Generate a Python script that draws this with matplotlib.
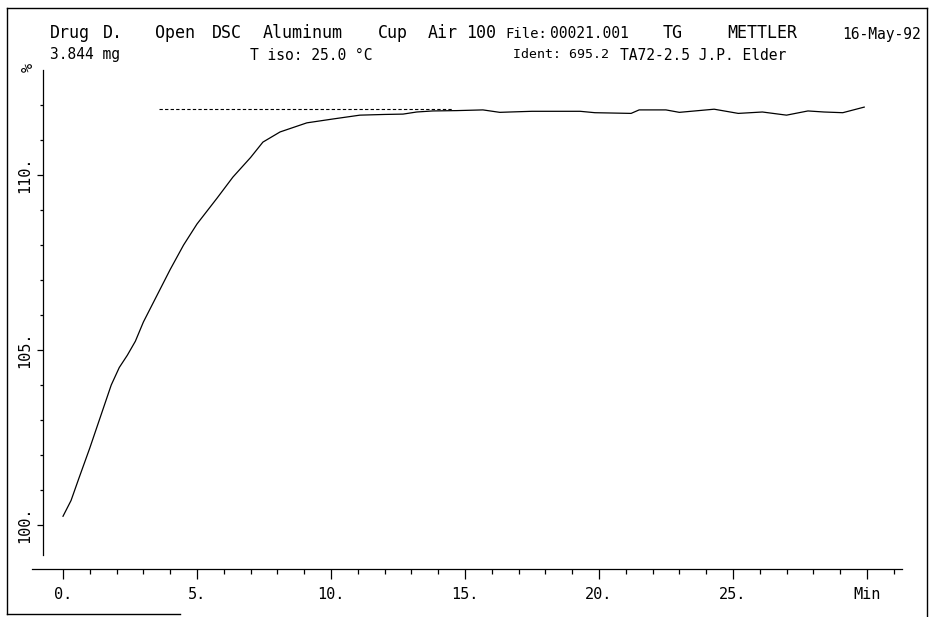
import matplotlib
matplotlib.use('Agg')
import matplotlib.pyplot as plt
from matplotlib.lines import Line2D

# TG curve (time in min, weight in %)
t_min = [0.0, 0.3, 0.6, 1.0, 1.4, 1.8, 2.1, 2.4, 2.7, 3.0, 3.5, 4.0, 4.5, 5.0,
         5.75, 6.34, 7.0, 7.46, 8.1, 9.1, 10.07, 11.08, 12.0, 12.69, 13.2,
         13.8, 14.7, 15.67, 16.3, 16.68, 17.5, 18.5, 19.3, 19.85, 21.2, 21.5,
         22.5, 23.0, 24.3, 25.2, 26.1, 27.0, 27.8, 28.4, 29.1, 29.9]
weight = [100.25, 100.7, 101.35, 102.2, 103.1, 104.0, 104.5, 104.85, 105.25,
          105.8, 106.55, 107.3, 108.0, 108.6, 109.34, 109.94, 110.5, 110.94,
          111.23, 111.49, 111.6, 111.71, 111.73, 111.74, 111.8, 111.83, 111.84,
          111.86, 111.79, 111.8, 111.82, 111.82, 111.82, 111.78, 111.76, 111.86,
          111.86, 111.79, 111.88, 111.76, 111.8, 111.71, 111.83, 111.8, 111.78,
          111.94]

# dashed reference level
ref_t = [3.58, 14.5]
ref_level = 111.88

x_ticks = [0, 5, 10, 15, 20, 25, 30]
x_labels = ['0.', '5.', '10.', '15.', '20.', '25.', 'Min']
y_ticks = [100, 105, 110]
y_labels = ['100.', '105.', '110.']

W, H = 930, 617
mono = 'DejaVu Sans Mono'

fig = plt.figure(figsize=(W / 100, H / 100), dpi=100)

# axes placed in pixel coords
left, right, top, bottom = 32, 902, 70, 569
ax = fig.add_axes([left / W, (H - bottom) / H, (right - left) / W, (bottom - top) / H])
ax.set_xlim(-1.157, 31.31)
ax.set_ylim(98.743, 113.0)
ax.patch.set_visible(False)

for s in ['top', 'right']:
    ax.spines[s].set_visible(False)
ax.spines['left'].set_position(('data', -0.746))
ax.spines['left'].set_bounds(99.14, 113.0)
for s in ['left', 'bottom']:
    ax.spines[s].set_linewidth(0.9)

ax.plot(t_min, weight, color='black', lw=0.9)
ax.plot(ref_t, [ref_level, ref_level], color='black', lw=0.8, linestyle=(0, (3, 2)))

ax.set_xticks(x_ticks)
ax.set_xticklabels(x_labels, fontfamily=mono, fontsize=11)
ax.set_xticks(range(1, 32), minor=True)
ax.set_yticks(y_ticks)
ax.set_yticklabels(y_labels, fontfamily=mono, fontsize=11, rotation=90, va='center')
ax.set_yticks(range(100, 113), minor=True)

ax.tick_params(axis='x', which='major', direction='out', length=7.2, width=0.9, pad=6)
ax.tick_params(axis='x', which='minor', direction='out', length=3.6, width=0.9)
ax.tick_params(axis='y', which='major', direction='out', length=4.5, width=0.9, pad=3.5)
ax.tick_params(axis='y', which='minor', direction='out', length=2.2, width=0.9)

fig.text(28 / W, 1 - 67 / H, '%', fontfamily=mono, fontsize=11, rotation=90,
         ha='center', va='center')

# header: (text, x px, y px, size)
header = [('Drug', 50, 33, 12), ('D.', 103, 33, 12), ('Open', 155, 33, 12),
          ('DSC', 212, 33, 12), ('Aluminum', 263, 33, 12), ('Cup', 378, 33, 12),
          ('Air', 428, 33, 12), ('100', 466, 33, 12),
          ('File:', 505, 34, 10), ('00021.001', 550, 34, 10.5),
          ('TG', 663, 33, 12), ('METTLER', 727, 33, 12), ('16-May-92', 842, 34, 10.5),
          ('3.844 mg', 50, 55, 10.5), ('T iso: 25.0 °C', 250, 55, 10.5),
          ('Ident: 695.2', 513, 55, 9.5), ('TA72-2.5 J.P. Elder', 620, 55, 10.5)]
for txt, xp, yp, fs in header:
    fig.text(xp / W, 1 - yp / H, txt, fontfamily=mono, fontsize=fs, va='center')

# page border from the scan
for xs, ys in [([7, 927], [8, 8]), ([7, 7], [8, 614]), ([927, 927], [8, 617]),
               ([7, 180], [614, 614])]:
    fig.add_artist(Line2D([x / W for x in xs], [1 - y / H for y in ys],
                          color='black', lw=1.0))

fig.savefig('out.png', dpi=100)
